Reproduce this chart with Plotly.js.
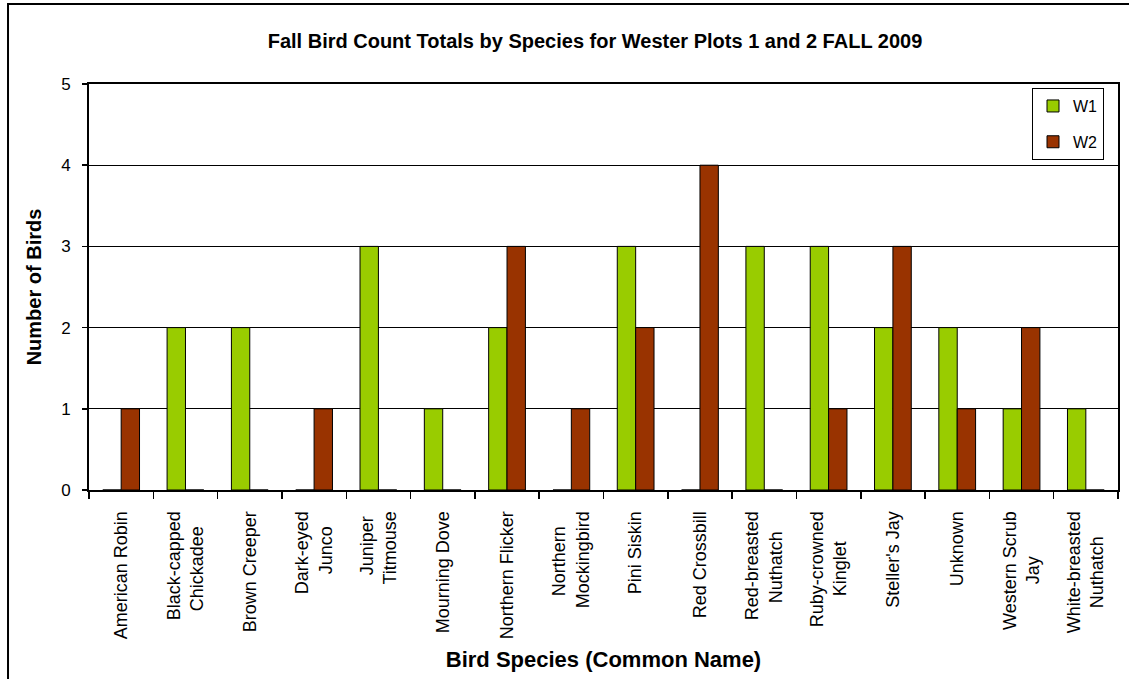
<!DOCTYPE html>
<html>
<head>
<meta charset="utf-8">
<script src="https://cdn.plot.ly/plotly-3.0.1.min.js"></script>
<style>html,body{margin:0;padding:0;background:#fff;}#chart{width:1129px;height:679px;}</style>
</head>
<body>
<div id="chart"></div>
<script>
const categories = [
  "American Robin", "Black-capped<br>Chickadee", "Brown Creeper", "Dark-eyed<br>Junco",
  "Juniper<br>Titmouse", "Mourning Dove", "Northern Flicker", "Northern<br>Mockingbird",
  "Pini Siskin", "Red Crossbill", "Red-breasted<br>Nuthatch", "Ruby-crowned<br>Kinglet",
  "Steller's Jay", "Unknown", "Western Scrub<br>Jay", "White-breasted<br>Nuthatch"
];
const w1 = [0, 2, 2, 0, 3, 1, 2, 0, 3, 0, 3, 3, 2, 2, 1, 1];
const w2 = [1, 0, 0, 1, 0, 0, 3, 1, 2, 4, 0, 1, 3, 1, 2, 0];
const yTicks = [0, 1, 2, 3, 4, 5];

// Display version of tick labels: shorter line of each wrapped label padded so both lines look centred
const NB = "\u00a0";
const pad = n => NB.repeat(n);
const tickLabels = [
  "American Robin", "Black-capped<br>Chickadee" + pad(3), "Brown Creeper", "Dark-eyed<br>Junco" + pad(3),
  "Juniper" + pad(1) + "<br>Titmouse", "Mourning Dove", "Northern Flicker", "Northern" + pad(3) + "<br>Mockingbird",
  "Pini Siskin", "Red Crossbill", "Red-breasted<br>Nuthatch" + pad(4), "Ruby-crowned<br>Kinglet" + pad(6),
  "Steller's Jay", "Unknown", "Western Scrub<br>Jay" + pad(9), "White-breasted<br>Nuthatch" + pad(5)
];

const font = "Liberation Sans, Arial, sans-serif";
const traces = [
  {type: "bar", name: "W1", x: categories, y: w1, legendgroup: "a",
   marker: {color: "#99CC00", line: {color: "#000", width: 1}}},
  {type: "bar", name: "W2", x: categories, y: w2, legendgroup: "b",
   marker: {color: "#993300", line: {color: "#000", width: 1}}}
];

const layout = {
  width: 1129, height: 679,
  margin: {l: 89, r: 11, t: 84, b: 189},
  paper_bgcolor: "#fff", plot_bgcolor: "#fff",
  font: {family: font, color: "#000", size: 17},
  barmode: "group", bargap: 0.4286, bargroupgap: 0,
  title: {text: "<b>Fall Bird Count Totals by Species for Wester Plots 1 and 2 FALL 2009</b>",
          font: {family: font, size: 20, color: "#000"}, x: 0.527, xanchor: "center", y: 0.94, yanchor: "middle"},
  xaxis: {
    type: "category", tickangle: -90, tickson: "boundaries", ticks: "outside", ticklen: 7, tickwidth: 1.5, tickcolor: "#000",
    tickvals: categories, ticktext: tickLabels, ticklabelstandoff: 12,
    showline: true, linecolor: "#000", linewidth: 2, mirror: true, showgrid: false, zeroline: false,
    tickfont: {family: font, size: 18, color: "#000"},
    title: {text: "<b>Bird Species (Common Name)</b>", font: {family: font, size: 22, color: "#000"}, standoff: 13}
  },
  yaxis: {
    range: [0, 5], tickvals: yTicks, ticktext: yTicks.map(String), ticks: "outside", ticklen: 5, tickwidth: 1.5, tickcolor: "#000",
    showline: true, linecolor: "#000", linewidth: 2, mirror: true, showgrid: true, gridcolor: "#000", gridwidth: 1, zeroline: false,
    tickfont: {family: font, size: 17, color: "#000"}, ticklabelstandoff: 8,
    title: {text: "<b>Number of Birds</b>", font: {family: font, size: 20, color: "#000"}, standoff: 14}
  },
  legend: {x: 0.9864, xanchor: "right", y: 0.99, yanchor: "top", bgcolor: "#fff", bordercolor: "#000", borderwidth: 1,
           font: {family: font, size: 16, color: "#000"}, itemwidth: 30, traceorder: "grouped", tracegroupgap: 12},
  shapes: [
    {type: "rect", xref: "paper", yref: "paper", x0: -0.0787, x1: 1.02, y0: -0.49, y1: 1.197,
     line: {color: "#000", width: 2}, fillcolor: "rgba(0,0,0,0)", layer: "above"}
  ]
};

Plotly.newPlot("chart", traces, layout, {displayModeBar: false, staticPlot: true});
</script>
</body>
</html>
